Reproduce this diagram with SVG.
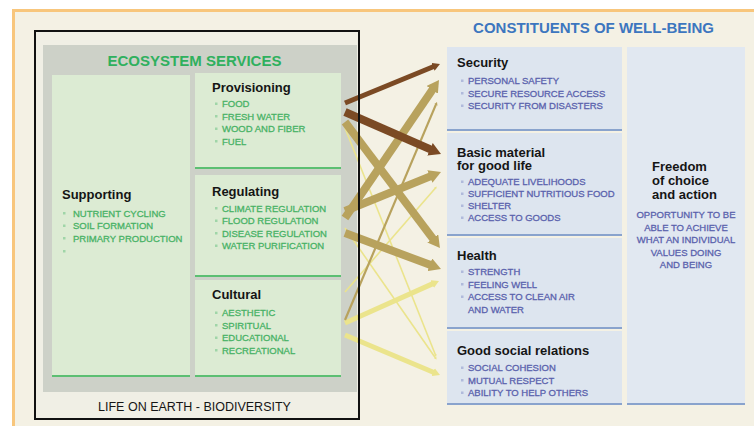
<svg xmlns="http://www.w3.org/2000/svg" width="754" height="426" viewBox="0 0 754 426">
  <defs>
    <style>
      text{font-family:'Liberation Sans',Arial,Helvetica,sans-serif}
      .ttl{font-size:13px;font-weight:bold;fill:#151515}
      .head{font-size:15px;font-weight:bold}
      .gi{font-size:9.5px;fill:#48b266;stroke:#48b266;stroke-width:0.3}
      .bi{font-size:9.5px;fill:#5a62ad;stroke:#5a62ad;stroke-width:0.3}
      .gb{fill:#9fd5a8}
      .bb{fill:#b0badb}
      .gbox{fill:#dcebd3}
      .gline{stroke:#5cbf72;stroke-width:2}
      .bbox{fill:#dde5ef}
      .bline{stroke:#89a3cd;stroke-width:2}
      .arr{fill:none;stroke-linecap:butt}
      .brown{stroke:#7b4a24}
      .tan{stroke:#b8a25d}
      .yel{stroke:#ebe48c}
    </style>
    <marker id="hBrown" viewBox="0 0 15 17" refX="3" refY="8.5" markerWidth="1.5" markerHeight="1.7" markerUnits="strokeWidth" orient="auto" preserveAspectRatio="none">
      <path d="M0,0 L15,8.5 L0,17 Z" fill="#7b4a24"/>
    </marker>
    <marker id="hTan" viewBox="0 0 15 17" refX="3" refY="8.5" markerWidth="1.5" markerHeight="1.7" markerUnits="strokeWidth" orient="auto" preserveAspectRatio="none">
      <path d="M0,0 L15,8.5 L0,17 Z" fill="#b8a25d"/>
    </marker>
    <marker id="hYel" viewBox="0 0 15 17" refX="3" refY="8.5" markerWidth="1.5" markerHeight="1.7" markerUnits="strokeWidth" orient="auto" preserveAspectRatio="none">
      <path d="M0,0 L15,8.5 L0,17 Z" fill="#ebe48c"/>
    </marker>
  </defs>

  <!-- page and outer panel -->
  <rect x="0" y="0" width="754" height="426" fill="#ffffff"/>
  <rect x="13.5" y="10.5" width="760" height="430" fill="#f4f1e4" stroke="#f8c67c" stroke-width="3"/>

  <!-- left frame: life on earth / ecosystem services -->
  <g id="ecosystem-services">
    <rect x="35" y="31" width="324" height="388" fill="#f0efe5"/>
    <rect x="43" y="45" width="314" height="347" fill="#cdd1c8"/>
    <text class="head" x="194.5" y="66" text-anchor="middle" fill="#2fb05e">ECOSYSTEM SERVICES</text>
  </g>

  <g id="supporting">
    <rect class="gbox" x="52" y="75" width="138" height="301"/>
    <line class="gline" x1="52" y1="376" x2="190" y2="376"/>
    <text class="ttl" x="62" y="199">Supporting</text>
    <rect class="gb" x="63" y="212" width="2.5" height="2.5"/>
    <rect class="gb" x="63" y="224.5" width="2.5" height="2.5"/>
    <rect class="gb" x="63" y="237" width="2.5" height="2.5"/>
    <rect class="gb" x="63" y="250" width="2.5" height="2.5"/>
    <text class="gi" x="73" y="216.5">NUTRIENT CYCLING</text>
    <text class="gi" x="73" y="229">SOIL FORMATION</text>
    <text class="gi" x="73" y="241.5">PRIMARY PRODUCTION</text>
  </g>

  <g id="provisioning">
    <rect class="gbox" x="195" y="73" width="146" height="95"/>
    <line class="gline" x1="195" y1="168" x2="341" y2="168"/>
    <text class="ttl" x="212" y="92">Provisioning</text>
    <rect class="gb" x="215" y="102.5" width="2.5" height="2.5"/>
    <rect class="gb" x="215" y="115" width="2.5" height="2.5"/>
    <rect class="gb" x="215" y="127.5" width="2.5" height="2.5"/>
    <rect class="gb" x="215" y="140" width="2.5" height="2.5"/>
    <text class="gi" x="222" y="107">FOOD</text>
    <text class="gi" x="222" y="119.5">FRESH WATER</text>
    <text class="gi" x="222" y="132">WOOD AND FIBER</text>
    <text class="gi" x="222" y="144.5">FUEL</text>
  </g>

  <g id="regulating">
    <rect class="gbox" x="195" y="175" width="146" height="101"/>
    <line class="gline" x1="195" y1="276" x2="341" y2="276"/>
    <text class="ttl" x="212" y="196">Regulating</text>
    <rect class="gb" x="215" y="207" width="2.5" height="2.5"/>
    <rect class="gb" x="215" y="219.5" width="2.5" height="2.5"/>
    <rect class="gb" x="215" y="232" width="2.5" height="2.5"/>
    <rect class="gb" x="215" y="244.5" width="2.5" height="2.5"/>
    <text class="gi" x="222" y="211.5">CLIMATE REGULATION</text>
    <text class="gi" x="222" y="224">FLOOD REGULATION</text>
    <text class="gi" x="222" y="236.5">DISEASE REGULATION</text>
    <text class="gi" x="222" y="249">WATER PURIFICATION</text>
  </g>

  <g id="cultural">
    <rect class="gbox" x="195" y="280" width="146" height="96"/>
    <line class="gline" x1="195" y1="376" x2="341" y2="376"/>
    <text class="ttl" x="212" y="299">Cultural</text>
    <rect class="gb" x="215" y="311.5" width="2.5" height="2.5"/>
    <rect class="gb" x="215" y="324" width="2.5" height="2.5"/>
    <rect class="gb" x="215" y="336.5" width="2.5" height="2.5"/>
    <rect class="gb" x="215" y="349" width="2.5" height="2.5"/>
    <text class="gi" x="222" y="316">AESTHETIC</text>
    <text class="gi" x="222" y="328.5">SPIRITUAL</text>
    <text class="gi" x="222" y="341">EDUCATIONAL</text>
    <text class="gi" x="222" y="353.5">RECREATIONAL</text>
  </g>

  <!-- links between services and well-being -->
  <g id="connectors">
    <line class="arr yel" stroke-width="1.6" x1="345" y1="128" x2="435.5" y2="355" marker-end="url(#hYel)"/>
    <line class="arr yel" stroke-width="1.6" x1="345" y1="228" x2="435.5" y2="358" marker-end="url(#hYel)"/>
    <line class="arr yel" stroke-width="1.6" x1="345" y1="292" x2="435.5" y2="188" marker-end="url(#hYel)"/>
    <line class="arr yel" stroke-width="5" x1="345" y1="323" x2="433.5" y2="283.4" marker-end="url(#hYel)"/>
    <line class="arr yel" stroke-width="5" x1="345" y1="335" x2="434.5" y2="372.7" marker-end="url(#hYel)"/>
    <line class="arr tan" stroke-width="2.2" x1="345" y1="320" x2="436" y2="104.4" marker-end="url(#hTan)"/>
    <line class="arr tan" stroke-width="8" x1="345" y1="122" x2="434.2" y2="240.3" marker-end="url(#hTan)"/>
    <line class="arr tan" stroke-width="8" x1="345" y1="218" x2="433.6" y2="87.9" marker-end="url(#hTan)"/>
    <line class="arr tan" stroke-width="8" x1="345" y1="211" x2="432.1" y2="175.6" marker-end="url(#hTan)"/>
    <line class="arr tan" stroke-width="8" x1="345" y1="233" x2="432" y2="265.6" marker-end="url(#hTan)"/>
    <line class="arr brown" stroke-width="5" x1="345" y1="103" x2="434.4" y2="66.3" marker-end="url(#hBrown)"/>
    <line class="arr brown" stroke-width="8" x1="345" y1="112" x2="432.2" y2="150.2" marker-end="url(#hBrown)"/>
  </g>

  <g id="biodiversity">
    <rect x="35" y="31" width="324" height="388" fill="none" stroke="#111" stroke-width="2"/>
    <text x="194.5" y="410.5" font-size="12.5" text-anchor="middle" fill="#151515">LIFE ON EARTH - BIODIVERSITY</text>
  </g>

  <!-- right side: constituents of well-being -->
  <g id="well-being">
    <text class="head" x="593.5" y="33" text-anchor="middle" fill="#3c76bf">CONSTITUENTS OF WELL-BEING</text>
  </g>

  <g id="security">
    <rect class="bbox" x="447" y="47" width="175" height="83"/>
    <line class="bline" x1="447" y1="130" x2="622" y2="130"/>
    <text class="ttl" x="457" y="67">Security</text>
    <rect class="bb" x="461" y="79.5" width="2.5" height="2.5"/>
    <rect class="bb" x="461" y="92" width="2.5" height="2.5"/>
    <rect class="bb" x="461" y="104.5" width="2.5" height="2.5"/>
    <text class="bi" x="468" y="84">PERSONAL SAFETY</text>
    <text class="bi" x="468" y="96.5">SECURE RESOURCE ACCESS</text>
    <text class="bi" x="468" y="109">SECURITY FROM DISASTERS</text>
  </g>

  <g id="basic-material">
    <rect class="bbox" x="447" y="133" width="175" height="102"/>
    <line class="bline" x1="447" y1="235" x2="622" y2="235"/>
    <text class="ttl" x="457" y="156.5">Basic material</text>
    <text class="ttl" x="457" y="170">for good life</text>
    <rect class="bb" x="461" y="180.5" width="2.5" height="2.5"/>
    <rect class="bb" x="461" y="192.5" width="2.5" height="2.5"/>
    <rect class="bb" x="461" y="204.5" width="2.5" height="2.5"/>
    <rect class="bb" x="461" y="216.5" width="2.5" height="2.5"/>
    <text class="bi" x="468" y="185">ADEQUATE LIVELIHOODS</text>
    <text class="bi" x="468" y="197">SUFFICIENT NUTRITIOUS FOOD</text>
    <text class="bi" x="468" y="209">SHELTER</text>
    <text class="bi" x="468" y="221">ACCESS TO GOODS</text>
  </g>

  <g id="health">
    <rect class="bbox" x="447" y="238" width="175" height="90"/>
    <line class="bline" x1="447" y1="328" x2="622" y2="328"/>
    <text class="ttl" x="457" y="260">Health</text>
    <rect class="bb" x="461" y="270.5" width="2.5" height="2.5"/>
    <rect class="bb" x="461" y="283" width="2.5" height="2.5"/>
    <rect class="bb" x="461" y="295.5" width="2.5" height="2.5"/>
    <text class="bi" x="468" y="275">STRENGTH</text>
    <text class="bi" x="468" y="287.5">FEELING WELL</text>
    <text class="bi" x="468" y="300">ACCESS TO CLEAN AIR</text>
    <text class="bi" x="468" y="312.5">AND WATER</text>
  </g>

  <g id="social-relations">
    <rect class="bbox" x="447" y="331" width="175" height="73"/>
    <line class="bline" x1="447" y1="404" x2="622" y2="404"/>
    <text class="ttl" x="457" y="355">Good social relations</text>
    <rect class="bb" x="461" y="366.5" width="2.5" height="2.5"/>
    <rect class="bb" x="461" y="379" width="2.5" height="2.5"/>
    <rect class="bb" x="461" y="391.5" width="2.5" height="2.5"/>
    <text class="bi" x="468" y="371">SOCIAL COHESION</text>
    <text class="bi" x="468" y="383.5">MUTUAL RESPECT</text>
    <text class="bi" x="468" y="396">ABILITY TO HELP OTHERS</text>
  </g>

  <g id="freedom">
    <rect x="627" y="47" width="118" height="357" fill="#e1e8f1"/>
    <line class="bline" x1="627" y1="404" x2="745" y2="404"/>
    <text class="ttl" x="652" y="171">Freedom</text>
    <text class="ttl" x="652" y="185">of choice</text>
    <text class="ttl" x="652" y="199">and action</text>
    <g text-anchor="middle">
      <text class="bi" x="686" y="218">OPPORTUNITY TO BE</text>
      <text class="bi" x="686" y="230.5">ABLE TO ACHIEVE</text>
      <text class="bi" x="686" y="243">WHAT AN INDIVIDUAL</text>
      <text class="bi" x="686" y="255.5">VALUES DOING</text>
      <text class="bi" x="686" y="267.5">AND BEING</text>
    </g>
  </g>
</svg>
